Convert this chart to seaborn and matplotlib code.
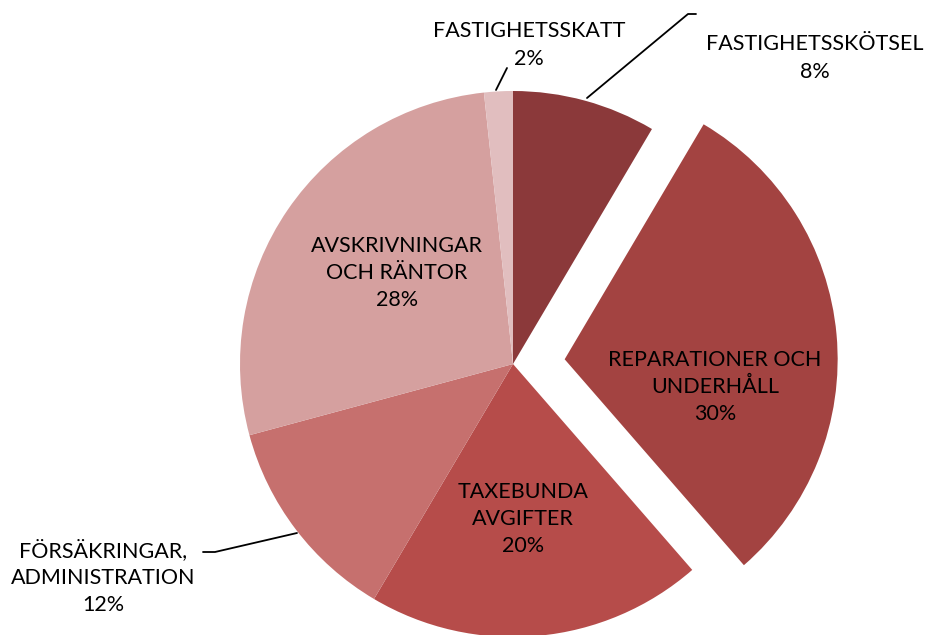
import matplotlib
matplotlib.use("Agg")
import matplotlib.pyplot as plt
import seaborn as sns

# Kostnadsfördelning (andelar avlästa ur sektorerna, etiketter avrundade)
categories = ["FASTIGHETSSKÖTSEL", "REPARATIONER OCH\nUNDERHÅLL", "TAXEBUNDA\nAVGIFTER",
              "FÖRSÄKRINGAR,\nADMINISTRATION", "AVSKRIVNINGAR\nOCH RÄNTOR", "FASTIGHETSSKATT"]
shares = [8.5, 30.1, 19.9, 12.3, 27.5, 1.7]
pct_labels = ["8%", "30%", "20%", "12%", "28%", "2%"]
colors = ["#8B393A", "#A34341", "#B64C4A", "#C6706E", "#D5A09F", "#E1BEBF"]
explode = [0, 0.19, 0, 0, 0, 0]

sns.set_style("white")
plt.rcParams["font.family"] = ["Lato", "DejaVu Sans"]

W, H = 930, 635
cx, cy, R = 513, 364, 273

fig = plt.figure(figsize=(W / 100, H / 100), dpi=100)
ax = fig.add_axes([0, 0, 1, 1])
ax.pie(shares, colors=sns.color_palette(colors), explode=explode, startangle=90,
       counterclock=False, radius=1.0, wedgeprops=dict(linewidth=0))
ax.set_xlim(-cx / R, (W - cx) / R)
ax.set_ylim(-(H - cy) / R, cy / R)
ax.set_aspect("equal")
ax.axis("off")


def px(x, y):
    return (x - cx) / R, (cy - y) / R


fs = 15.5


def label(i, x, y):
    ax.text(*px(x, y), f"{categories[i]}\n{pct_labels[i]}", ha="center", va="center",
            fontsize=fs, linespacing=1.45, color="black")


label(0, 815, 58)
label(1, 715, 387)
label(2, 523, 519)
label(3, 103, 577)
label(4, 397, 273)
label(5, 529, 45)

# ledare
def leader(pts):
    xs, ys = zip(*[px(x, y) for x, y in pts])
    ax.plot(xs, ys, color="black", lw=1.3)


leader([(587, 98), (688, 14), (696, 14)])
leader([(496, 90), (507, 68)])
leader([(297, 533), (215, 552), (203, 552)])

fig.savefig("out.png", dpi=100)
